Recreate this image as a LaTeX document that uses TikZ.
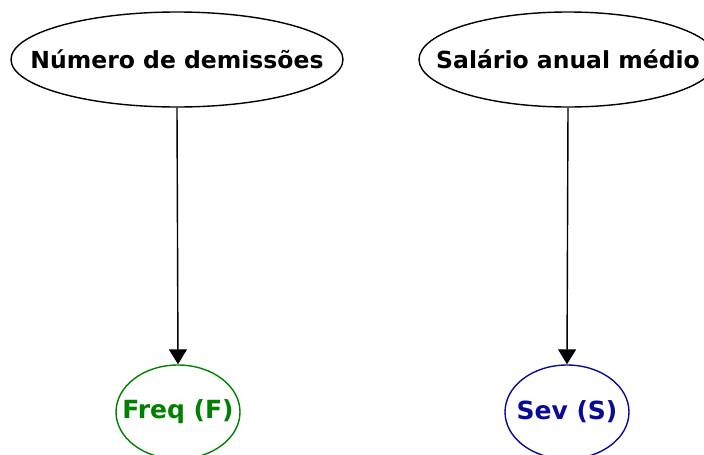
\documentclass[tikz,border=0pt]{standalone}
\usepackage{fontspec}
\setmainfont{DejaVu Sans}
\usetikzlibrary{shapes.geometric,arrows.meta}
\definecolor{freqgreen}{RGB}{0,128,0}
\definecolor{sevblue}{RGB}{10,10,150}
\newcommand{\lbl}[1]{\makebox[0pt]{#1}}
\tikzset{
  var/.style={ellipse, draw, line width=1.4pt, inner sep=0pt,
    font=\fontsize{23.5}{26}\selectfont\bfseries, text=black},
  outcome/.style={var, font=\fontsize{25}{28}\selectfont\bfseries,
    minimum width=124pt, minimum height=94pt},
  link/.style={line width=1.4pt, -{Triangle[width=18pt,length=15pt]}}
}
\begin{document}
\begin{tikzpicture}[x=1pt,y=-1pt]
  \useasboundingbox (0,0) rectangle (704,455);
  \node[var, minimum width=332pt, minimum height=95pt] (dem) at (177,59.5) {\lbl{Número de demissões}};
  \node[var, minimum width=298pt, minimum height=95pt] (sal) at (568,59.5) {\lbl{Salário anual médio}};
  \node[outcome, draw=freqgreen, text=freqgreen] (freq) at (178,412) {\lbl{Freq (F)}};
  \node[outcome, draw=sevblue, text=sevblue] (sev) at (567,412) {\lbl{Sev (S)}};
  \draw[link] (dem.south) -- (freq.north);
  \draw[link] (sal.south) -- (sev.north);
\end{tikzpicture}
\end{document}
